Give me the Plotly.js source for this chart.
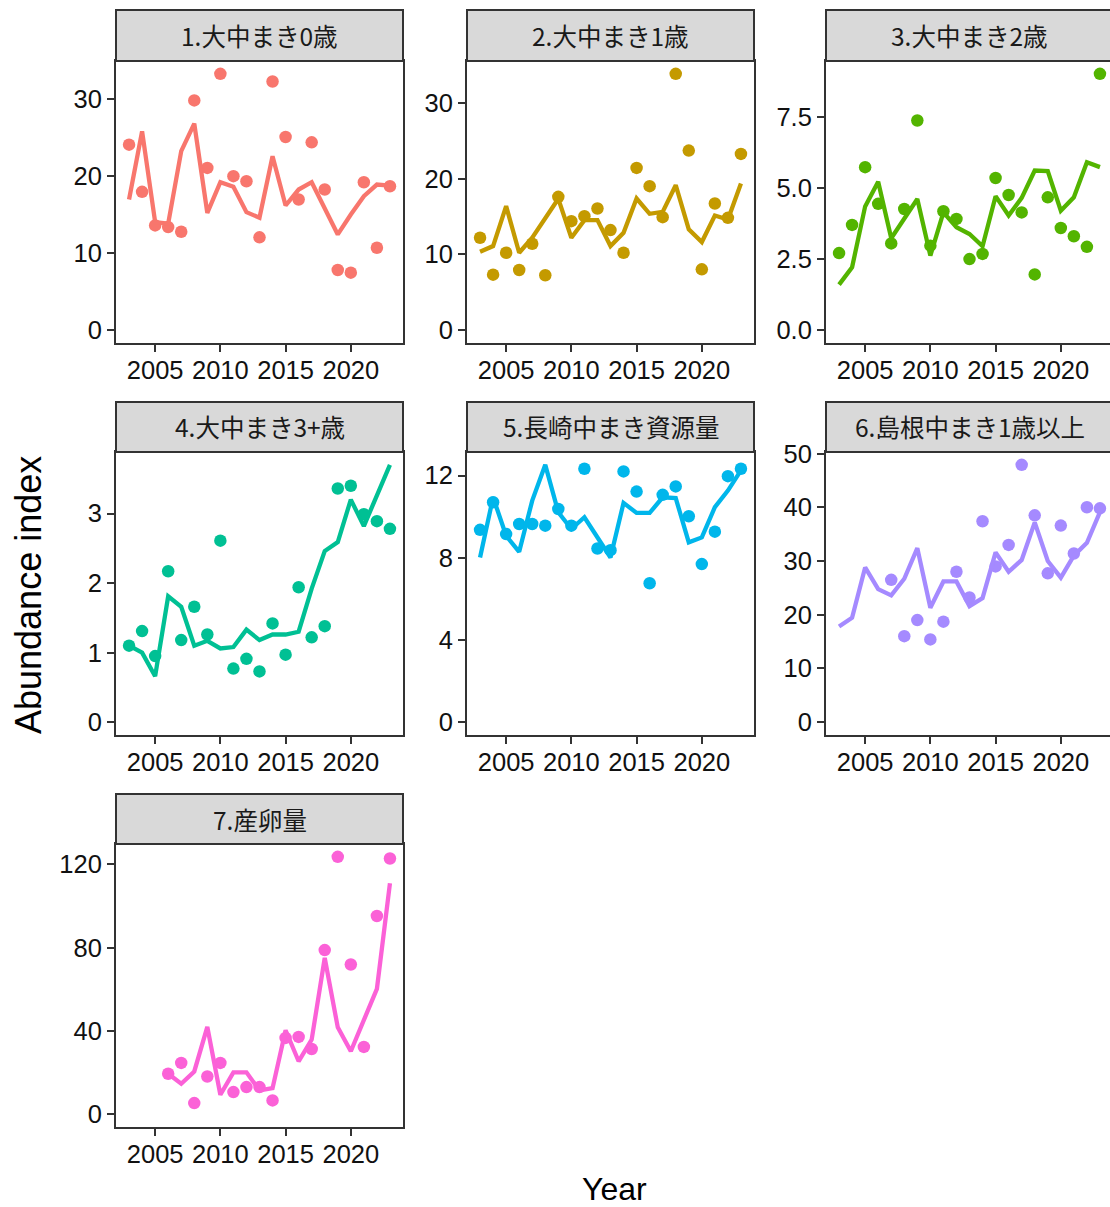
<!DOCTYPE html>
<html>
<head>
<meta charset="utf-8">
<script src="https://cdn.plot.ly/plotly-3.0.1.min.js"></script>
<style>
html,body{margin:0;padding:0;overflow:hidden;background:#fff;}
#chart{width:1120px;height:1207px;}
</style>
</head>
<body>
<div id="chart"></div>
<script>
// ---- data ----
const years = [2003,2004,2005,2006,2007,2008,2009,2010,2011,2012,2013,2014,2015,2016,2017,2018,2019,2020,2021,2022,2023];

const panelTitles = ["1.大中まき0歳","2.大中まき1歳","3.大中まき2歳","4.大中まき3+歳","5.長崎中まき資源量","6.島根中まき1歳以上","7.産卵量"];
const panelColors = ["#F8766D","#C49A00","#53B400","#00C094","#00B6EB","#A58AFF","#FB61D7"];

const obs1 = [24.05,17.93,13.58,13.36,12.76,29.78,21.03,33.23,19.96,19.31,12.03,32.24,25.04,16.94,24.35,18.23,7.80,7.46,19.18,10.69,18.66];
const fit1 = [16.94,25.78,14.0,13.8,23.2,26.77,15.2,19.18,18.58,15.3,14.57,22.54,16.16,18.23,19.18,15.73,12.41,15.0,17.37,18.88,18.75];

const obs2 = [12.21,7.33,10.23,7.95,11.42,7.25,17.61,14.40,15.06,16.07,13.22,10.23,21.43,19.02,14.93,33.86,23.72,8.04,16.73,14.84,23.28];
const fit2 = [10.36,11.11,16.38,10.23,12.21,14.71,17.35,12.21,14.54,14.54,11.11,12.87,17.39,15.37,15.63,19.15,13.31,11.64,15.15,14.62,19.37];

const obs3 = [2.71,3.70,5.73,4.44,3.05,4.26,7.37,2.97,4.18,3.91,2.50,2.68,5.35,4.75,4.14,1.96,4.67,3.59,3.30,2.93,9.01];
const fit3 = [1.60,2.21,4.35,5.22,3.23,3.91,4.61,2.62,4.14,3.62,3.38,2.95,4.71,4.03,4.65,5.61,5.59,4.20,4.67,5.90,5.73];

const obs4 = [1.10,1.31,0.95,2.17,1.18,1.66,1.26,2.61,0.77,0.91,0.73,1.42,0.97,1.94,1.22,1.38,3.36,3.40,2.99,2.89,2.78];
const fit4 = [1.10,1.00,0.66,1.81,1.66,1.10,1.17,1.06,1.08,1.33,1.18,1.26,1.26,1.30,1.92,2.46,2.59,3.20,2.82,3.25,3.70];

const obs5 = [9.36,10.70,9.15,9.64,9.64,9.56,10.37,9.56,12.33,8.45,8.37,12.20,11.22,6.76,11.06,11.47,10.02,7.69,9.27,11.97,12.33];
const fit5 = [8.01,10.94,9.07,8.29,10.78,12.52,10.21,9.40,9.97,8.99,8.01,10.67,10.18,10.18,10.94,10.90,8.75,8.99,10.46,11.27,12.25];

const obs6 = [null,null,null,null,26.5,16.0,19.0,15.4,18.7,28.0,23.2,37.4,29.0,33.0,47.9,38.5,27.7,36.6,31.4,40.0,39.8];
const fit6 = [17.8,19.45,28.8,24.75,23.6,26.7,32.4,21.3,26.2,26.2,21.6,23.1,31.6,28.0,30.2,37.2,30.0,26.9,31.0,33.4,39.1];

const obs7 = [null,null,null,19.4,24.6,5.3,18.1,24.6,10.6,13.0,13.0,6.6,36.6,37.1,31.3,78.8,123.6,71.9,32.3,95.2,122.8];
const fit7 = [null,null,null,19.4,14.6,20.5,41.9,9.3,20.1,20.1,11.4,12.5,40.3,25.4,35.8,75.1,41.7,30.2,45.7,60.2,110.9];

const xTicks = [2005,2010,2015,2020];
const yTicks = [[0,10,20,30],[0,10,20,30],[0,2.5,5,7.5],[0,1,2,3],[0,4,8,12],[0,10,20,30,40,50],[0,40,80,120]];
const yTickText = [["0","10","20","30"],["0","10","20","30"],["0.0","2.5","5.0","7.5"],["0","1","2","3"],["0","4","8","12"],["0","10","20","30","40","50"],["0","40","80","120"]];

const xTitle = "Year";
const yTitle = "Abundance index";

// ---- layout geometry (pixels) ----
const W = 1120, H = 1207;
const cols = [[116,403],[467,754],[826,1113]];
const rows = [[61,343],[452,735],[844,1127]];
const strips = [[10,61],[402,452],[794,844]];

const obsList = [obs1,obs2,obs3,obs4,obs5,obs6,obs7];
const fitList = [fit1,fit2,fit3,fit4,fit5,fit6,fit7];

const traces = [];
const layout = {
  width: W, height: H,
  margin: {l:0,r:0,t:0,b:0},
  paper_bgcolor: '#fff', plot_bgcolor: '#fff',
  showlegend: false,
  font: {family: 'Liberation Sans, Arial, sans-serif', color: '#1a1a1a'},
  shapes: [], annotations: []
};

const tickFont = {family: 'Liberation Sans, Arial, sans-serif', size: 25.5, color: '#111'};

for (let i = 0; i < 7; i++) {
  const r = Math.floor(i / 3), c = i % 3;
  const xa = 'x' + (i === 0 ? '' : (i+1));
  const ya = 'y' + (i === 0 ? '' : (i+1));
  const vals = obsList[i].concat(fitList[i]).filter(v => v !== null);
  const ymax = Math.max(...vals), ymin = Math.min(0, ...vals);
  const span = ymax - ymin;

  traces.push({
    x: years, y: obsList[i], xaxis: xa, yaxis: ya, type: 'scatter', mode: 'markers',
    marker: {color: panelColors[i], size: 12.5}, hoverinfo: 'skip'
  });
  traces.push({
    x: years, y: fitList[i], xaxis: xa, yaxis: ya, type: 'scatter', mode: 'lines',
    line: {color: panelColors[i], width: 4.3}, connectgaps: false, hoverinfo: 'skip'
  });

  const xKey = 'xaxis' + (i === 0 ? '' : (i+1));
  const yKey = 'yaxis' + (i === 0 ? '' : (i+1));
  layout[xKey] = {
    domain: [cols[c][0]/W, cols[c][1]/W],
    anchor: ya, range: [2002, 2024],
    tickvals: xTicks, ticktext: xTicks.map(String),
    ticks: 'outside', ticklen: 7, tickwidth: 2, tickcolor: '#333',
    ticklabelstandoff: -4,
    showline: true, mirror: true, linecolor: '#333', linewidth: 2,
    showgrid: false, zeroline: false, tickfont: tickFont, fixedrange: true
  };
  layout[yKey] = {
    domain: [(H - rows[r][1])/H, (H - rows[r][0])/H],
    anchor: xa, range: [ymin - 0.05*span, ymax + 0.05*span],
    tickvals: yTicks[i], ticktext: yTickText[i],
    ticks: 'outside', ticklen: 7, tickwidth: 2, tickcolor: '#333',
    showline: true, mirror: true, linecolor: '#333', linewidth: 2,
    showgrid: false, zeroline: false, tickfont: tickFont, fixedrange: true
  };

  // strip
  layout.shapes.push({
    type: 'rect', xref: 'paper', yref: 'paper',
    x0: cols[c][0]/W, x1: cols[c][1]/W,
    y0: (H - strips[r][1])/H, y1: (H - strips[r][0])/H,
    fillcolor: '#d9d9d9', line: {color: '#333', width: 2}
  });
  layout.annotations.push({
    xref: 'paper', yref: 'paper',
    x: (cols[c][0] + cols[c][1]) / 2 / W,
    y: (H - (strips[r][0] + strips[r][1]) / 2) / H,
    text: panelTitles[i], showarrow: false, xanchor: 'center', yanchor: 'middle',
    font: {family: 'Noto Sans CJK JP, Liberation Sans, sans-serif', size: 24.5, color: '#1a1a1a'}
  });
}

layout.annotations.push({
  xref: 'paper', yref: 'paper', x: 614/W, y: (H - 1189)/H,
  text: xTitle, showarrow: false, xanchor: 'center', yanchor: 'middle',
  font: {family: 'Liberation Sans, Arial, sans-serif', size: 32, color: '#000'}
});
layout.annotations.push({
  xref: 'paper', yref: 'paper', x: 28/W, y: (H - 595)/H,
  text: yTitle, showarrow: false, xanchor: 'center', yanchor: 'middle', textangle: -90,
  font: {family: 'Liberation Sans, Arial, sans-serif', size: 36, color: '#000'}
});

Plotly.newPlot('chart', traces, layout, {displayModeBar: false, staticPlot: true});
</script>
</body>
</html>
